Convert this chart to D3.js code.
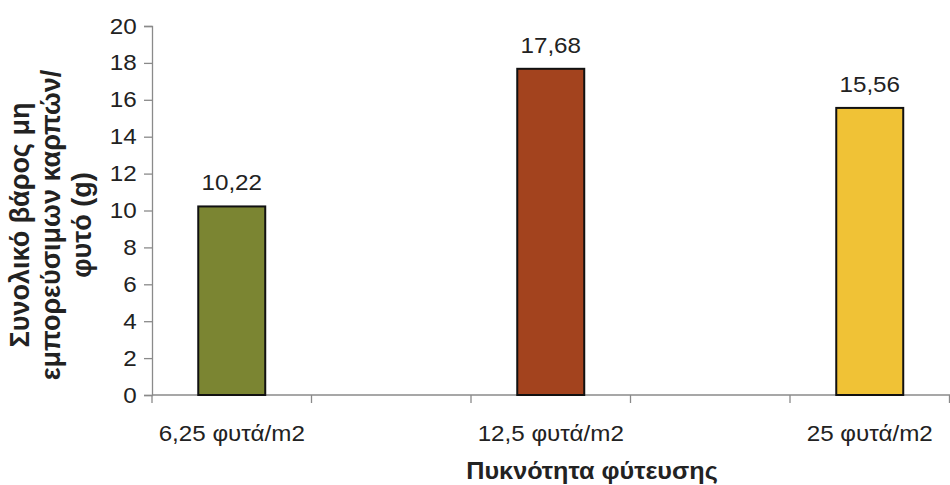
<!DOCTYPE html>
<html>
<head>
<meta charset="utf-8">
<script src="https://cdn.jsdelivr.net/npm/d3@7"></script>
<style>
  html, body { margin: 0; padding: 0; background: #fff; }
  svg { display: block; font-family: "Liberation Sans", Arial, sans-serif; }
</style>
</head>
<body>
<svg id="chart" width="950" height="485"></svg>
<script>
// Planting densities and total weight of non-marketable fruit per plant (g)
const categories = ["6,25 φυτά/m2", "12,5 φυτά/m2", "25 φυτά/m2"];
const values = [10.22, 17.68, 15.56];
const barColors = ["#7b8532", "#a3431e", "#f0c236"];
const yTicks = [0, 2, 4, 6, 8, 10, 12, 14, 16, 18, 20];
const yTitleLines = ["Συνολικό βάρος μη", "εμπορεύσιμων καρπών/", "φυτό (g)"];
const xTitle = "Πυκνότητα φύτευσης";

const W = 950, H = 485;
const plotLeft = 152;
const slotWidth = 159.5;
const sx = 1.1;              // slight horizontal widening of the lettering
const svg = d3.select("#chart");
const textColor = "#222";
const axisColor = "#8a8a8a";

// Each category sits in the first of a pair of slots along the axis
const slots = d3.range(categories.length * 2);
const x = d3.scaleBand()
  .domain(slots)
  .range([plotLeft, plotLeft + slots.length * slotWidth])
  .paddingInner(0).paddingOuter(0);

const y = d3.scaleLinear().domain([0, 20]).range([395, 26]);

// Y axis
const yAxis = svg.append("g")
  .attr("transform", `translate(${plotLeft},0)`)
  .call(d3.axisLeft(y).tickValues(yTicks).tickSize(8).tickPadding(6).tickFormat(d3.format("d")));
yAxis.select(".domain").attr("stroke", axisColor).attr("stroke-width", 1.3);
yAxis.selectAll(".tick line").attr("stroke", axisColor).attr("stroke-width", 1.3);
yAxis.selectAll(".tick text")
  .attr("fill", textColor)
  .style("font-size", "22px")
  .attr("transform", `scale(${sx},1)`);

// X axis with a tick at every slot boundary
const bounds = slots.map(s => x(s)).concat([x(slots[slots.length - 1]) + x.bandwidth()]);
const xAxisG = svg.append("g");
xAxisG.append("line")
  .attr("x1", plotLeft).attr("x2", W)
  .attr("y1", y(0)).attr("y2", y(0))
  .attr("stroke", axisColor).attr("stroke-width", 1.3);
xAxisG.selectAll("line.tick").data(bounds).join("line")
  .attr("class", "tick")
  .attr("x1", d => d).attr("x2", d => d)
  .attr("y1", y(0)).attr("y2", y(0) + 8)
  .attr("stroke", axisColor).attr("stroke-width", 1.3);

const barW = x.bandwidth() * 0.42;
const cx = i => x(i * 2) + x.bandwidth() / 2;

// Bars
svg.append("g").selectAll("rect").data(values).join("rect")
  .attr("x", (d, i) => cx(i) - barW / 2)
  .attr("y", d => y(d))
  .attr("width", barW)
  .attr("height", d => y(0) - y(d))
  .attr("fill", (d, i) => barColors[i])
  .attr("stroke", "#111")
  .attr("stroke-width", 2);

// Value labels
svg.append("g").selectAll("text").data(values).join("text")
  .attr("transform", (d, i) => `translate(${cx(i)},${y(d) - 16}) scale(${sx},1)`)
  .attr("text-anchor", "middle")
  .attr("fill", textColor)
  .style("font-size", "22px")
  .text(d => d3.format(".2f")(d).replace(".", ","));

// Category labels, kept inside the right edge
svg.append("g").selectAll("text").data(categories).join("text")
  .attr("text-anchor", "middle")
  .attr("fill", textColor)
  .style("font-size", "22px")
  .text(d => d)
  .each(function(d, i) {
    const w = this.getComputedTextLength() * sx;
    const xc = Math.min(cx(i), W - 6 - w / 2);
    d3.select(this).attr("transform", `translate(${xc},441) scale(${sx},1)`);
  });

// Axis titles
const yt = svg.append("text")
  .attr("transform", `translate(51,225) scale(1.05,1) rotate(-90)`)
  .attr("text-anchor", "middle")
  .attr("fill", textColor)
  .style("font-size", "27px")
  .style("font-weight", "bold");
yTitleLines.forEach((t, i) => {
  yt.append("tspan").attr("x", 0).attr("y", (i - 1) * 29.5 + 9).text(t);
});

svg.append("text")
  .attr("transform", `translate(592,479) scale(1.05,1)`)
  .attr("text-anchor", "middle")
  .attr("fill", textColor)
  .style("font-size", "24px")
  .style("font-weight", "bold")
  .text(xTitle);
</script>
</body>
</html>
